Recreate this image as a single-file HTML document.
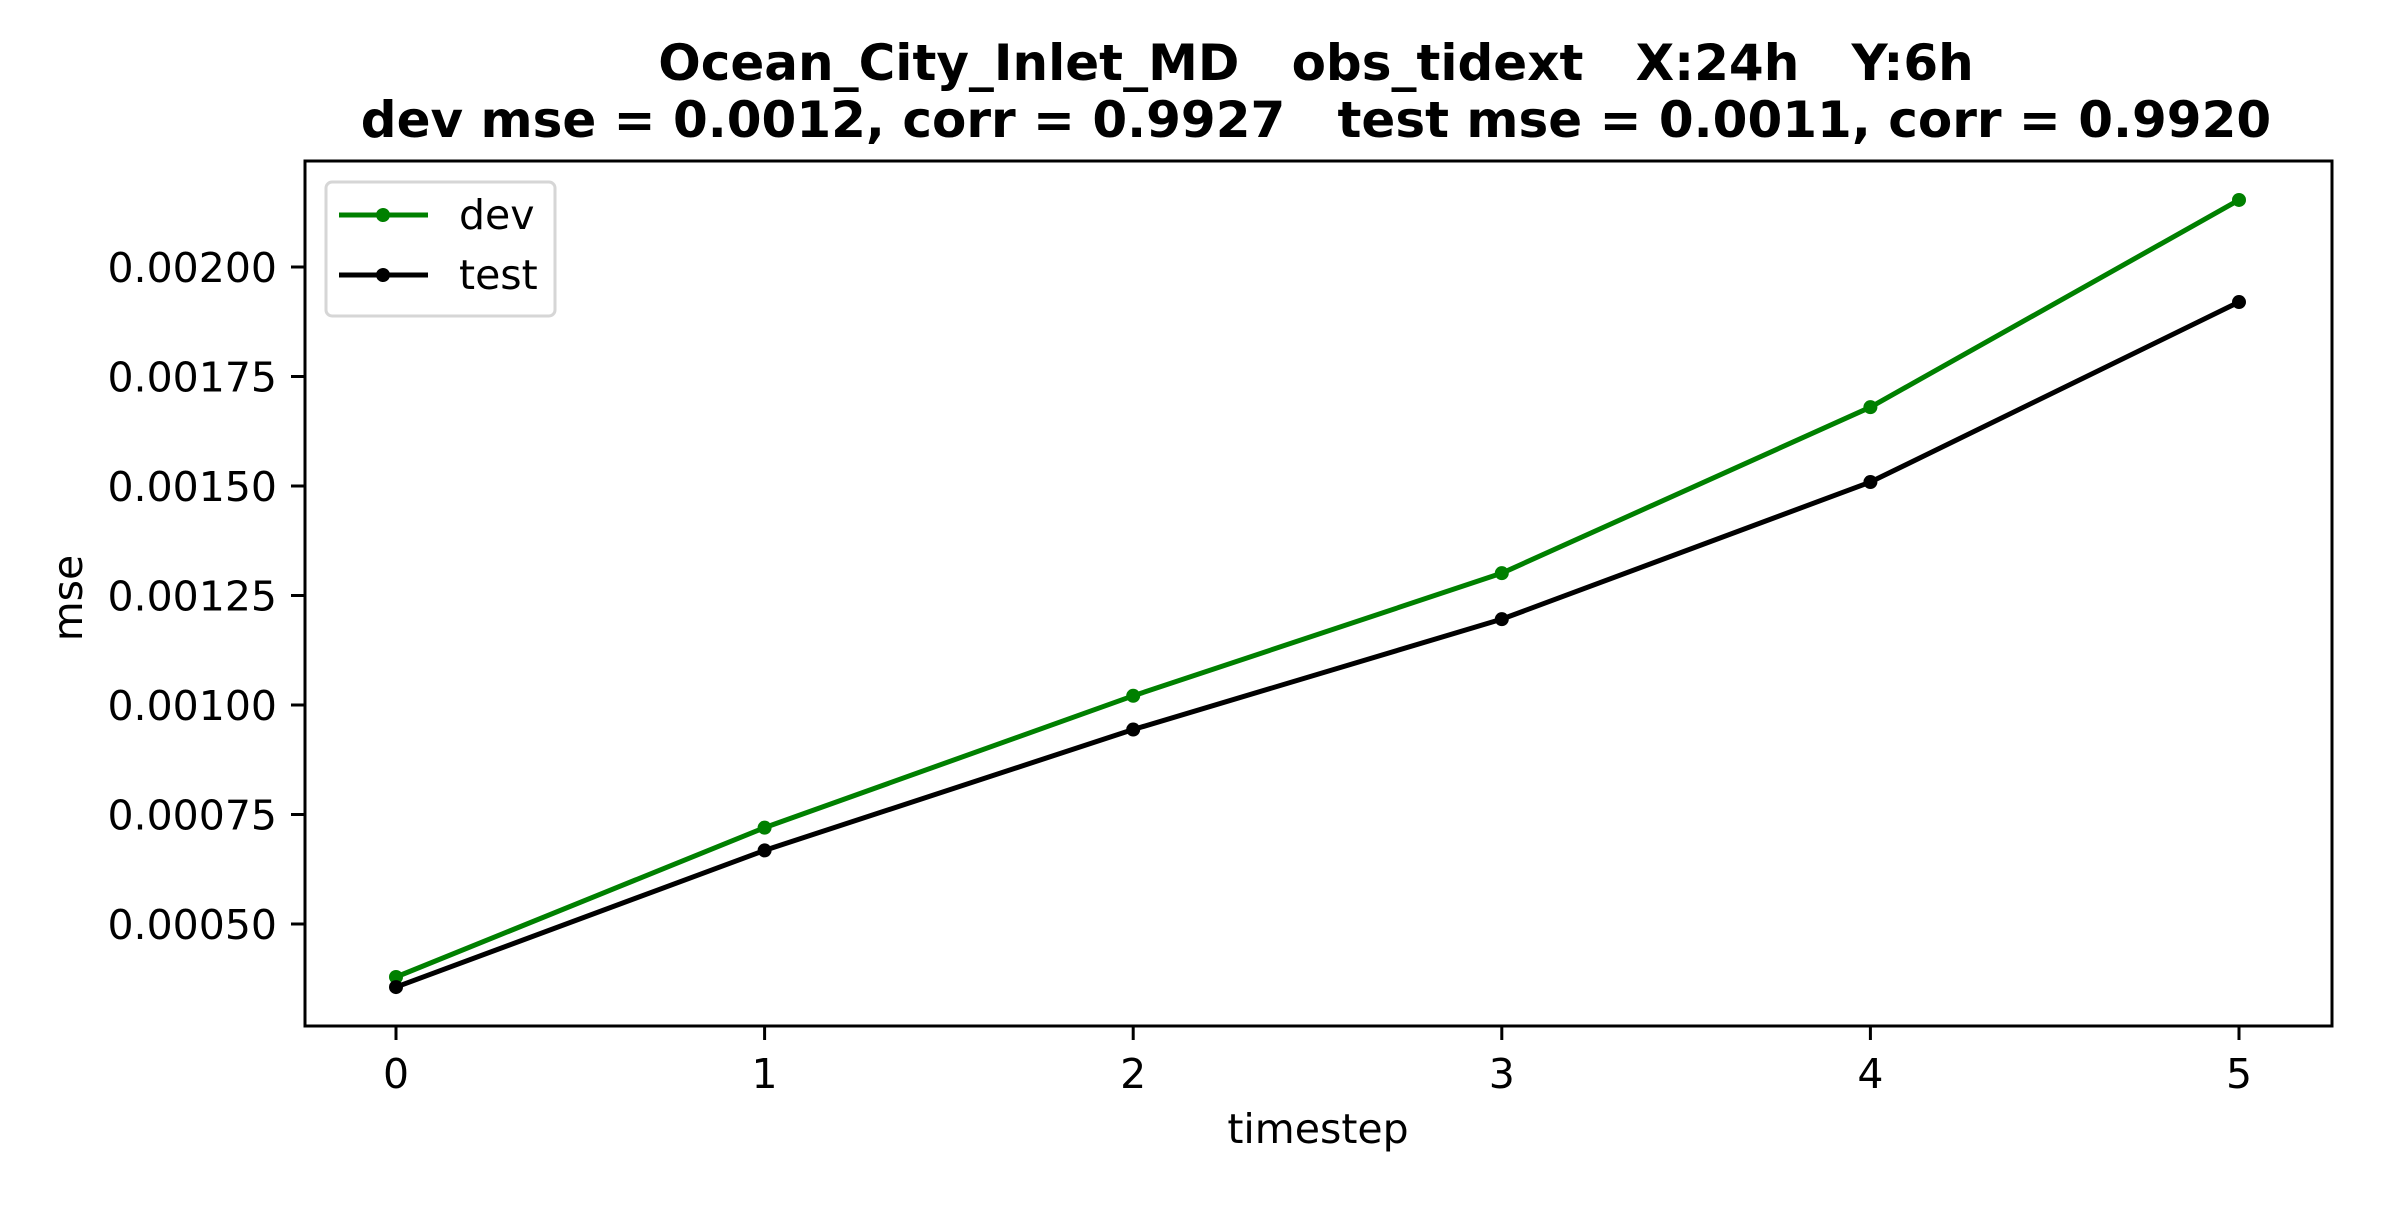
<!DOCTYPE html>
<html><head><meta charset="utf-8"><style>
body{margin:0;background:#fff;}
svg text{font-family:"DejaVu Sans","Liberation Sans",sans-serif;}
</style></head><body>
<svg id="chart" width="2400" height="1200" viewBox="0 0 2400 1200" xmlns="http://www.w3.org/2000/svg">
<rect width="2400" height="1200" fill="#fff"/>
<text x="1316" y="80" font-size="50" font-weight="bold" text-anchor="middle" xml:space="preserve">Ocean_City_Inlet_MD   obs_tidext   X:24h   Y:6h</text>
<text x="1316" y="137" font-size="50" font-weight="bold" text-anchor="middle" xml:space="preserve">dev mse = 0.0012, corr = 0.9927   test mse = 0.0011, corr = 0.9920</text>
<g id="xticks"></g><g id="yticks"></g><g id="series"></g>
<rect x="305" y="161" width="2027" height="865" fill="none" stroke="#000" stroke-width="3"/>
<text x="1318" y="1143" font-size="41" text-anchor="middle">timestep</text>
<text transform="translate(82,598) rotate(-90)" font-size="41" text-anchor="middle">mse</text>
<g>
<rect x="326" y="182" width="229" height="134" rx="6" fill="#fff" fill-opacity="0.8" stroke="#d6d6d6" stroke-width="3"/>
<g>
<line x1="339" y1="215" x2="428" y2="215" stroke="#008000" stroke-width="5"/><circle cx="383" cy="215" r="7" fill="#008000"/>
<text x="459" y="229" font-size="41">dev</text></g>
<g>
<line x1="339" y1="275" x2="428" y2="275" stroke="#000" stroke-width="5"/><circle cx="383" cy="275" r="7" fill="#000"/>
<text x="459" y="289" font-size="41">test</text></g>
</g>
</svg>
<script>
const categories=[0,1,2,3,4,5];
const devValues=[0.000379,0.00072,0.001021,0.001301,0.00168,0.002153];
const testValues=[0.000356,0.000668,0.000944,0.001196,0.001509,0.00192];
const yTickValues=[0.0005,0.00075,0.001,0.00125,0.0015,0.00175,0.002];
const yTickLabels=["0.00050","0.00075","0.00100","0.00125","0.00150","0.00175","0.00200"];
const xTickLabels=["0","1","2","3","4","5"];
const NS="http://www.w3.org/2000/svg";
function xs(v){return 396+v*368.6;}
function ys(v){return 924-(v-0.0005)/0.00025*109.5;}
function mk(t,a,p){const e=document.createElementNS(NS,t);for(const k in a)e.setAttribute(k,a[k]);p.appendChild(e);return e;}
const xg=document.getElementById('xticks'),yg=document.getElementById('yticks'),sg=document.getElementById('series');
categories.forEach((c,i)=>{
 const g=mk('g',{},xg);
 
 
 mk('line',{x1:xs(c),x2:xs(c),y1:1026,y2:1040,stroke:'#000','stroke-width':3},g);
 const t=mk('text',{x:xs(c),y:1088,'font-size':41,'text-anchor':'middle'},g);t.textContent=xTickLabels[i];
});
yTickValues.forEach((v,i)=>{
 const g=mk('g',{},yg);
 
 
 mk('line',{x1:291,x2:305,y1:ys(v),y2:ys(v),stroke:'#000','stroke-width':3},g);
 const t=mk('text',{x:277,y:ys(v)+15,'font-size':41,'text-anchor':'end'},g);t.textContent=yTickLabels[i];
});
[[devValues,'#008000','dev'],[testValues,'#000','test']].forEach(([vals,col,nm])=>{
 const g=mk('g',{},sg);
 
 
 const pl=mk('polyline',{points:vals.map((v,i)=>xs(categories[i])+','+ys(v)).join(' '),fill:'none',stroke:col,'stroke-width':5,'stroke-linejoin':'round'},g);
 
 
 vals.forEach((v,i)=>{
  const c=mk('circle',{cx:xs(categories[i]),cy:ys(v),r:7,fill:col},g);
  
  
 });
});
</script>
</body></html>
